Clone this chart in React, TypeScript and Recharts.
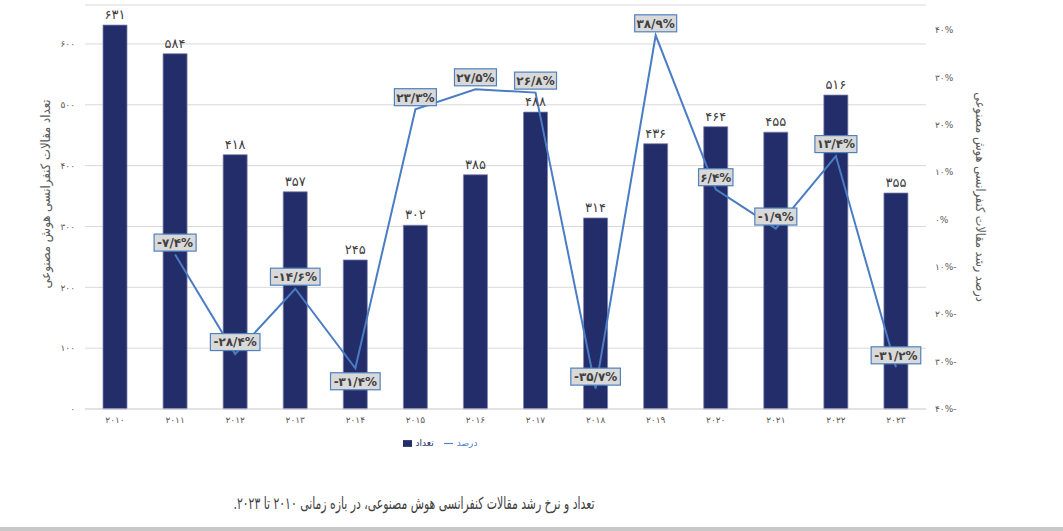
import { Bar, CartesianGrid, ComposedChart, LabelList, Legend, Line, XAxis, YAxis } from "recharts";

const years = ["2010", "2011", "2012", "2013", "2014", "2015", "2016", "2017", "2018", "2019", "2020", "2021", "2022", "2023"];
const counts = [631, 584, 418, 357, 245, 302, 385, 488, 314, 436, 464, 455, 516, 355];
const growth = [null, -7.4, -28.4, -14.6, -31.4, 23.3, 27.5, 26.8, -35.7, 38.9, 6.4, -1.9, 13.4, -31.2];
const countTicks = [0, 100, 200, 300, 400, 500, 600];
const growthTicks = [-40, -30, -20, -10, 0, 10, 20, 30, 40];

const data = years.map((y, i) => ({ year: y, count: counts[i], growth: growth[i] }));

const FONT = "'DejaVu Sans', sans-serif";
const NARROW = "'DejaVu Sans Condensed', 'DejaVu Sans', sans-serif";
const faDigits = (s: string) => s.replace(/\d/g, (d) => "۰۱۲۳۴۵۶۷۸۹"[+d]);
const fmtPct = (v: number) => (v < 0 ? "-" : "") + faDigits(Math.abs(v).toFixed(1).replace(".", "/")) + "%";
const fmtAxisPct = (v: number) => faDigits(String(Math.abs(v))) + "%" + (v < 0 ? "-" : "");

// excel put this one under the point
const labelBelow = ["2014"];

const GrowthLabel = (props: any) => {
  const { x, y, value, index } = props;
  if (value == null) return null;
  const txt = fmtPct(value);
  const w = txt.length * 7.6 + 4;
  const h = 17;
  const cy = labelBelow.includes(years[index]) ? y + 13 : y - 12;
  return (
    <g>
      <rect x={x - w / 2} y={cy - h / 2} width={w} height={h} fill="#d9d9d9" stroke="#4f81bd" strokeWidth={1.2} />
      <text x={x} y={cy} dy="0.36em" textAnchor="middle" fontSize={12} fontWeight="bold" fill="#404040" fontFamily={FONT}>
        {txt}
      </text>
    </g>
  );
};

export default function App() {
  return (
    <div style={{ position: "absolute", left: 0, top: 0, width: 1063, height: 531, background: "#fff", overflow: "hidden", fontFamily: FONT }}>
      <ComposedChart width={1063} height={460} data={data} margin={{ top: 5, right: 77, left: 35, bottom: 21 }}>
        <CartesianGrid yAxisId="left" vertical={false} stroke="#d9d9d9" />
        <XAxis
          dataKey="year"
          axisLine={{ stroke: "#d9d9d9" }}
          tickLine={false}
          height={30}
          tick={{ fontSize: 9, fill: "#595959", fontFamily: FONT }}
          tickFormatter={faDigits}
        />
        <YAxis
          yAxisId="left"
          width={50}
          domain={[0, 664]}
          ticks={countTicks}
          axisLine={false}
          tickLine={false}
          tickMargin={4}
          tick={{ fontSize: 9, fill: "#595959", fontFamily: FONT }}
          tickFormatter={(v: number) => faDigits(String(v))}
        />
        <YAxis
          yAxisId="right"
          orientation="right"
          width={60}
          domain={[-40, 45.3]}
          ticks={growthTicks}
          axisLine={false}
          tickLine={false}
          tickMargin={3}
          tick={{ fontSize: 9, fill: "#595959", fontFamily: FONT, textAnchor: "start" }}
          tickFormatter={fmtAxisPct}
        />
        <Legend
          verticalAlign="middle"
          align="center"
          iconSize={9}
          wrapperStyle={{ top: 438, left: 0, width: 890, fontSize: 9, color: "#595959" }}
        />
        <Bar
          yAxisId="left"
          dataKey="count"
          name="تعداد"
          fill="#232d69"
          stroke="#7d82ad"
          strokeWidth={0.75}
          barSize={24}
          isAnimationActive={false}
        >
          <LabelList
            dataKey="count"
            position="top"
            offset={6}
            formatter={(v: any) => faDigits(String(v))}
            style={{ fontSize: 13, fontWeight: "normal", fill: "#404040", fontFamily: FONT }}
          />
        </Bar>
        <Line
          yAxisId="right"
          dataKey="growth"
          name="درصد"
          stroke="#4a7dc4"
          strokeWidth={2}
          dot={false}
          legendType="plainline"
          isAnimationActive={false}
        >
          <LabelList dataKey="growth" content={<GrowthLabel />} />
        </Line>
      </ComposedChart>
      <div
        style={{
          position: "absolute", left: 45, top: 194, transform: "translate(-50%, -50%) rotate(-90deg)",
          whiteSpace: "nowrap", fontSize: 13, color: "#595959", direction: "rtl", fontFamily: NARROW,
        }}
      >
        تعداد مقالات کنفرانسی هوش مصنوعی
      </div>
      <div
        style={{
          position: "absolute", left: 980, top: 197, transform: "translate(-50%, -50%) rotate(90deg)",
          whiteSpace: "nowrap", fontSize: 12.5, color: "#595959", direction: "rtl", fontFamily: NARROW,
        }}
      >
        درصد رشد مقالات کنفرانسی هوش مصنوعی
      </div>
      <div
        style={{
          position: "absolute", left: 414, top: 503, transform: "translate(-50%, -50%) scaleX(0.73)",
          whiteSpace: "nowrap", fontSize: 16.5, color: "#404040", direction: "rtl", fontFamily: NARROW,
        }}
      >
        تعداد و نرخ رشد مقالات کنفرانسی هوش مصنوعی، در بازه زمانی ۲۰۱۰ تا ۲۰۲۳.
      </div>
      <div style={{ position: "absolute", left: 0, top: 527, width: 1063, height: 4, background: "#c8c8c8" }} />
    </div>
  );
}
